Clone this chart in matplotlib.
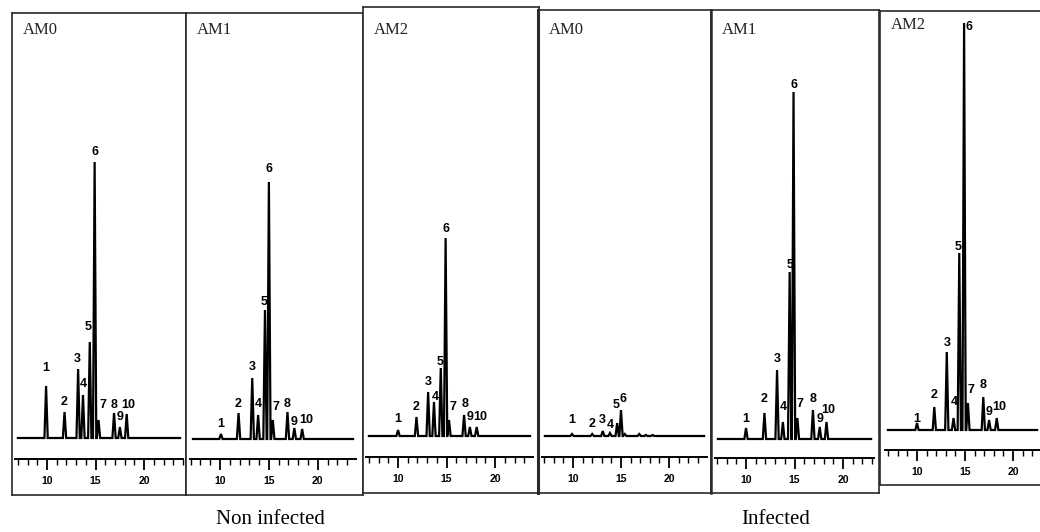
import numpy as np
import matplotlib.pyplot as plt
from matplotlib.ticker import MultipleLocator

W, H = 1040, 532

titles = ['AM0', 'AM1', 'AM2', 'AM0', 'AM1', 'AM2']
groups = ['Non infected', 'Infected']
peak_ids = [str(i) for i in range(1, 11)]

# retention time (min) of peaks 1..10 in each chromatogram
rt_ni0 = [9.9, 11.8, 13.2, 13.7, 14.4, 14.9, 15.3, 16.9, 17.5, 18.2]
rt_ni1 = [10.1, 11.9, 13.3, 13.9, 14.6, 15.0, 15.4, 16.9, 17.6, 18.4]
rt_ni2 = [10.0, 11.9, 13.1, 13.7, 14.4, 14.9, 15.25, 16.8, 17.4, 18.1]
rt_in0 = [9.9, 12.0, 13.1, 13.85, 14.6, 15.0, 15.4, 16.9, 17.6, 18.3]
rt_in1 = [10.0, 11.9, 13.2, 13.8, 14.5, 14.9, 15.3, 16.9, 17.6, 18.3]
rt_in2 = [10.0, 11.8, 13.1, 13.8, 14.4, 14.9, 15.3, 16.9, 17.5, 18.3]

# peak heights (detector response, arbitrary units)
h_ni0 = [52, 26, 69, 43, 96, 276, 18, 25, 11, 24]
h_ni1 = [5, 26, 61, 24, 129, 257, 19, 27, 11, 10]
h_ni2 = [6, 19, 44, 34, 68, 198, 16, 21, 9, 9]
h_in0 = [2, 2, 5, 3, 13, 26, 2, 2, 1, 1]
h_in1 = [11, 26, 69, 17, 167, 347, 21, 29, 12, 17]
h_in2 = [7, 23, 78, 12, 177, 407, 27, 33, 10, 12]

# height at which each peak number is written (None = not labelled)
lab_ni0 = [67, 33, 76, 51, 108, 283, 30, 30, 18, 30]
lab_ni1 = [12, 32, 69, 32, 134, 267, 29, 32, 14, 16]
lab_ni2 = [14, 26, 51, 36, 71, 204, 26, 29, 16, 16]
lab_in0 = [13, 9, 13, 8, 28, 34, None, None, None, None]
lab_in1 = [17, 37, 77, 29, 171, 351, 32, 37, 17, 26]
lab_in2 = [8, 32, 84, 25, 180, 400, 37, 42, 15, 20]

# sideways shift of the peak number (min)
dx_ni0 = [0, 0, -0.1, 0, -0.2, 0, 0.45, 0, 0, 0.15]
dx_ni1 = [0, 0, 0, 0, -0.1, 0, 0.3, 0, 0, 0.4]
dx_ni2 = [0, 0, 0, 0.1, -0.1, 0.05, 0.4, 0.1, 0, 0.35]
dx_in0 = [0, 0, 0, 0, -0.1, 0.2, 0, 0, 0, 0]
dx_in1 = [0, 0, 0, 0.05, 0, 0, 0.3, 0, 0, 0.2]
dx_in2 = [0, 0, 0, 0.1, -0.15, 0.55, 0.3, 0, -0.05, 0.25]

rts = [rt_ni0, rt_ni1, rt_ni2, rt_in0, rt_in1, rt_in2]
hts = [h_ni0, h_ni1, h_ni2, h_in0, h_in1, h_in2]
labs = [lab_ni0, lab_ni1, lab_ni2, lab_in0, lab_in1, lab_in2]
dxs = [dx_ni0, dx_ni1, dx_ni2, dx_in0, dx_in1, dx_in2]

# panel layout in pixels: frame (left, top, right, bottom), ruler (x0, x1, y), baseline y, time range
frames = [(12, 13, 186, 495), (186, 13, 363, 495), (363, 7, 539, 493),
          (538, 10, 711, 493), (711, 10, 879, 493), (880, 11, 1060, 485)]
rulers = [(15, 183, 459), (190, 356, 459), (366, 533, 457),
          (542, 707, 457), (715, 874, 458), (885, 1040, 450)]
bases = [438, 439, 436, 436, 439, 430]
tlims = [(6.7, 24.0), (6.94, 23.9), (6.7, 23.9), (6.77, 23.96), (6.8, 23.2), (6.67, 22.8)]
left_lw = [1.2, 1.2, 1.2, 2.2, 1.8, 1.2]

sans = ['Liberation Sans', 'DejaVu Sans']


def px_rect(l, t, r, b):
    return [l / W, 1 - b / H, (r - l) / W, (b - t) / H]


def trace(rt, h, x0, x1, w=0.17):
    xs, ys = [x0], [0]
    for r, v in sorted(zip(rt, h)):
        xs += [r - w, r, r + w]
        ys += [0, v, 0]
    xs.append(x1)
    ys.append(0)
    return xs, ys


fig = plt.figure(figsize=(W / 100, H / 100), dpi=100)

for i in range(6):
    l, t, r, b = frames[i]
    fr = fig.add_axes(px_rect(l, t, r, b))
    fr.set_xticks([])
    fr.set_yticks([])
    for s in fr.spines.values():
        s.set_color('#2a2a2a')
        s.set_linewidth(1.2)
    fr.spines['left'].set_linewidth(left_lw[i])

    fig.text((l + 11) / W, 1 - 22 / H if i < 5 else 1 - 17 / H, titles[i],
             family='Liberation Serif', fontsize=12, va='top', ha='left', color='#222')

    rx0, rx1, ry = rulers[i]
    base = bases[i]
    top = t + 2
    ax = fig.add_axes(px_rect(rx0, top, rx1, ry))
    ax.patch.set_visible(False)
    ax.set_xlim(*tlims[i])
    ax.set_ylim(-(ry - base), base - top)

    xs, ys = trace(rts[i], hts[i], tlims[i][0] + 0.3, tlims[i][1] - 0.3)
    ax.plot(xs, ys, color='black', lw=1.6, solid_joinstyle='miter')

    for k in range(10):
        if labs[i][k] is None:
            continue
        ax.text(rts[i][k] + dxs[i][k], labs[i][k], peak_ids[k], ha='center', va='baseline',
                family=sans, fontweight='bold', fontsize=9)

    for s in ['left', 'right', 'top']:
        ax.spines[s].set_visible(False)
    ax.spines['bottom'].set_position(('data', -(ry - base)))
    ax.spines['bottom'].set_linewidth(1.4)
    ax.set_yticks([])
    ax.xaxis.set_major_locator(MultipleLocator(5))
    ax.xaxis.set_minor_locator(MultipleLocator(1))
    ax.tick_params(axis='x', which='major', length=8, width=1.3, direction='out', pad=4)
    ax.tick_params(axis='x', which='minor', length=4, width=1.0, direction='out')
    for lbl in ax.get_xticklabels():
        lbl.set_family(sans)
        lbl.set_fontweight('bold')
        lbl.set_fontsize(7.5)

fig.text(270 / W, 1 - 520 / H, groups[0], family='Liberation Serif', fontsize=15,
         ha='center', va='center')
fig.text(776 / W, 1 - 520 / H, groups[1], family='Liberation Serif', fontsize=15,
         ha='center', va='center')

fig.savefig('out.png', dpi=100)
